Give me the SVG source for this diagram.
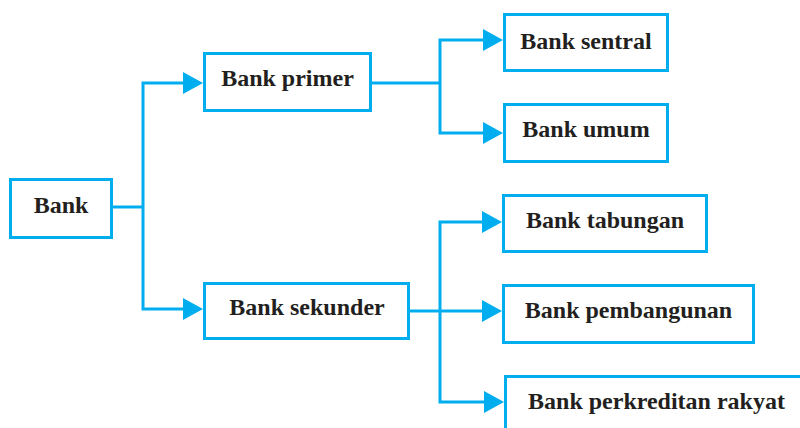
<svg xmlns="http://www.w3.org/2000/svg" width="800" height="428" viewBox="0 0 800 428">
<style>
.box{fill:#fff;stroke:#00aeef;stroke-width:3}
.ln{fill:none;stroke:#00aeef;stroke-width:3}
.t{font-family:"Liberation Serif","Times New Roman",serif;font-weight:bold;font-size:24px;fill:#231f20;text-anchor:middle}
</style>
<defs>
<marker id="ah" markerUnits="userSpaceOnUse" markerWidth="21" markerHeight="24" refX="0" refY="11" orient="auto">
<path d="M0,0 L20,11 L0,22 z" fill="#00aeef"/>
</marker>
</defs>
<rect width="800" height="428" fill="#fff"/>
<g id="connectors">
<path class="ln" d="M112,207 H143"/>
<path class="ln" d="M143,207 V83 H183" marker-end="url(#ah)"/>
<path class="ln" d="M143,207 V309 H183" marker-end="url(#ah)"/>
<path class="ln" d="M371,83 H440"/>
<path class="ln" d="M440,83 V40 H483" marker-end="url(#ah)"/>
<path class="ln" d="M440,83 V133 H483" marker-end="url(#ah)"/>
<path class="ln" d="M408,311 H440"/>
<path class="ln" d="M440,311 V222 H482" marker-end="url(#ah)"/>
<path class="ln" d="M440,311 H482" marker-end="url(#ah)"/>
<path class="ln" d="M440,311 V402 H484" marker-end="url(#ah)"/>
</g>
<g id="bank"><rect class="box" x="10.5" y="179.5" width="101" height="58"/><text class="t" x="61" y="213">Bank</text></g>
<g id="bank-primer"><rect class="box" x="204.5" y="53.5" width="166" height="57"/><text class="t" x="287.5" y="86">Bank primer</text></g>
<g id="bank-sekunder"><rect class="box" x="204.5" y="283.5" width="204" height="55"/><text class="t" x="307" y="315">Bank sekunder</text></g>
<g id="bank-sentral"><rect class="box" x="504.5" y="14.5" width="163" height="56"/><text class="t" x="586" y="49">Bank sentral</text></g>
<g id="bank-umum"><rect class="box" x="504.5" y="104.5" width="163" height="57"/><text class="t" x="586" y="137">Bank umum</text></g>
<g id="bank-tabungan"><rect class="box" x="503.5" y="195.5" width="203" height="56"/><text class="t" x="605" y="228">Bank tabungan</text></g>
<g id="bank-pembangunan"><rect class="box" x="503.5" y="285.5" width="250" height="57"/><text class="t" x="628.5" y="318">Bank pembangunan</text></g>
<g id="bank-perkreditan-rakyat"><rect class="box" x="505.5" y="376.5" width="310" height="80"/><text class="t" x="656.5" y="409">Bank perkreditan rakyat</text></g>
</svg>
